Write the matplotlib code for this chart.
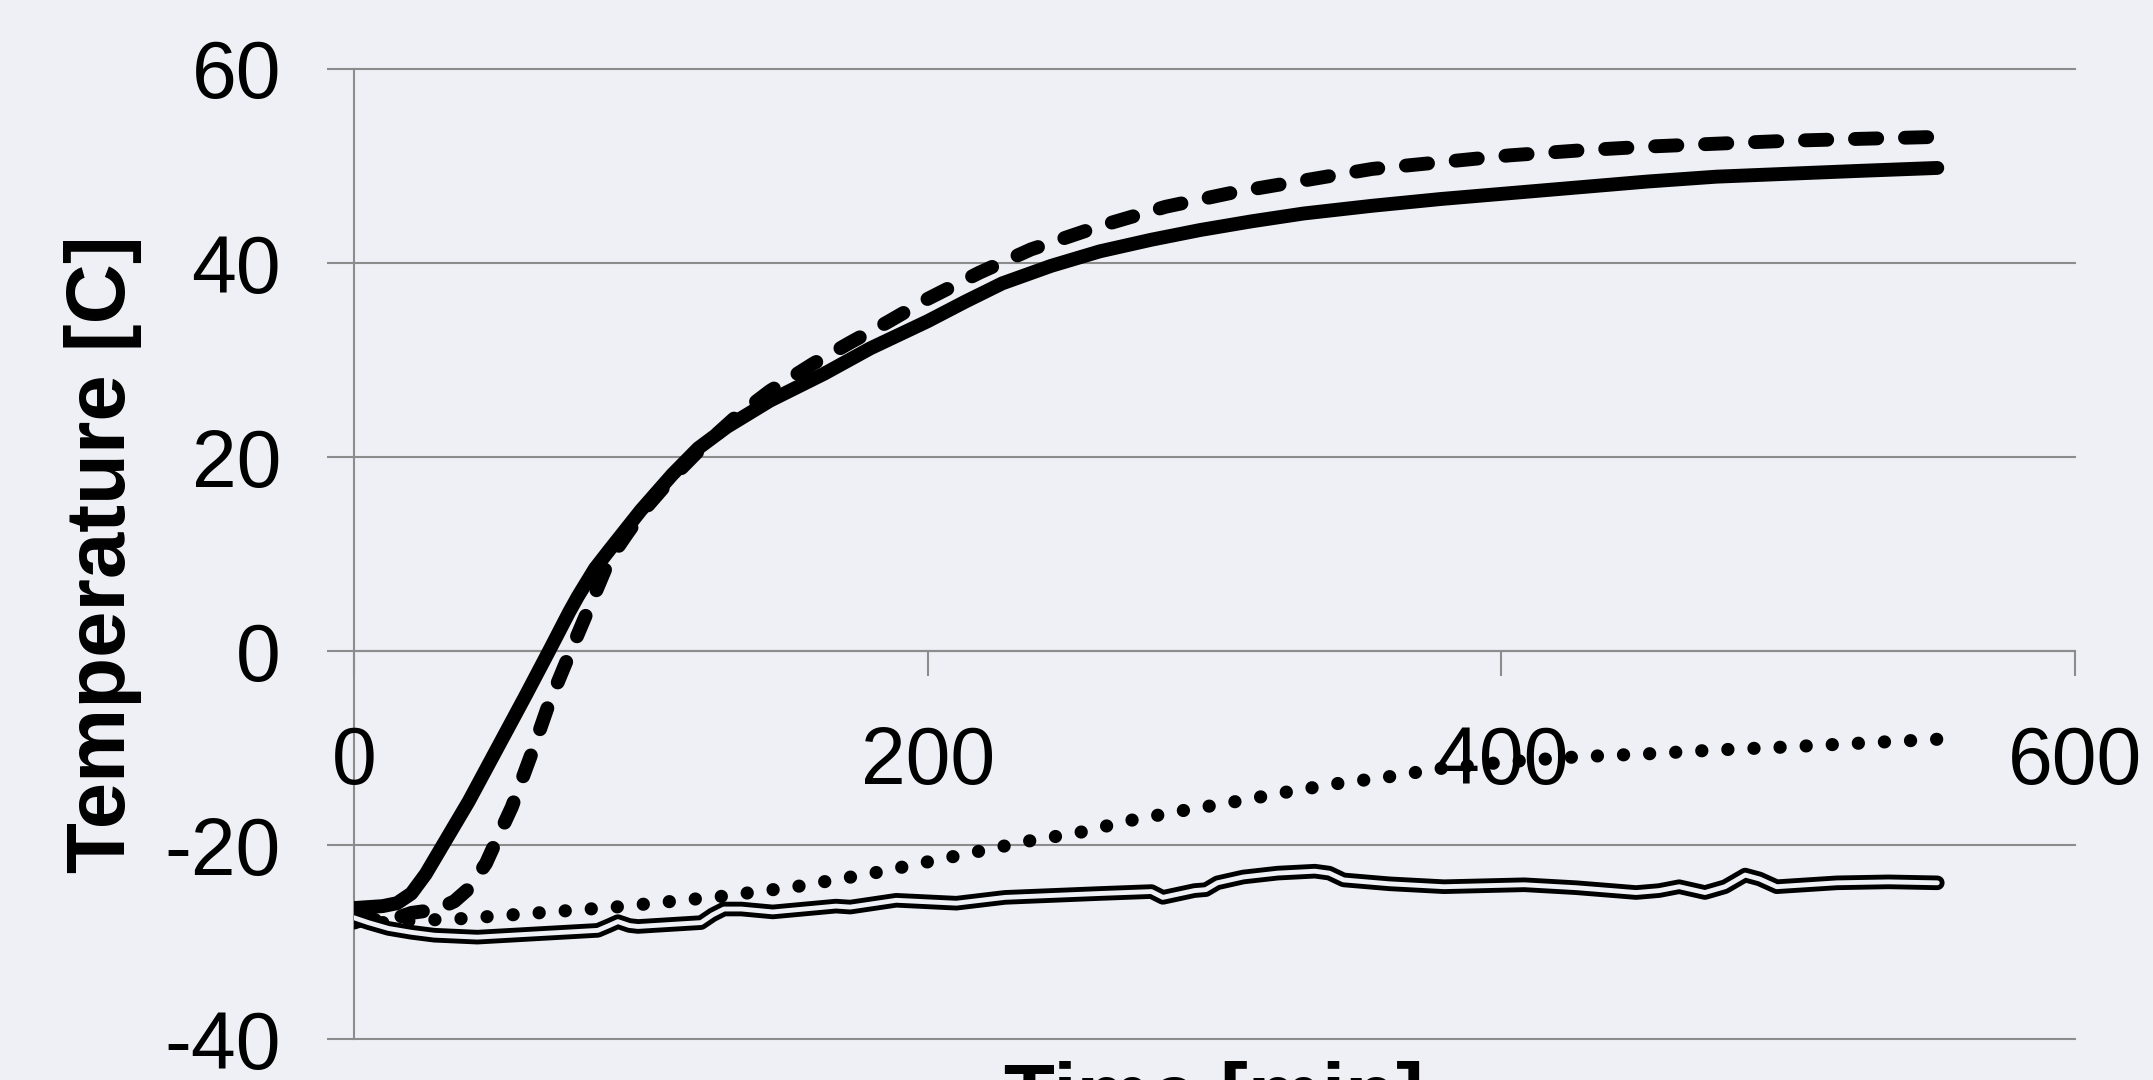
import matplotlib
matplotlib.use("Agg")
import matplotlib.pyplot as plt

# Temperature logs [C] against time [min]
t_solid = [0, 5, 10, 15, 20, 25, 31, 40, 50, 60, 68, 75, 78, 84, 89, 100, 111, 120, 130,
           145, 164, 180, 200, 213, 226, 243, 260, 278, 295, 313, 331, 355, 379, 403, 427,
           451, 475, 500, 525, 552]
T_solid = [-26.5, -26.4, -26.3, -26.0, -25.0, -23.0, -20.0, -15.5, -10.0, -4.5, 0.0, 4.0, 5.6,
           8.5, 10.4, 14.5, 18.2, 20.9, 23.1, 25.8, 28.6, 31.2, 34.0, 36.0, 37.9, 39.7, 41.2,
           42.4, 43.4, 44.3, 45.1, 45.9, 46.6, 47.2, 47.8, 48.4, 48.9, 49.2, 49.5, 49.8]

t_dashed = [0, 5, 10, 15, 20, 25, 30, 35, 40, 46, 50, 55, 62, 68, 75, 82, 89, 95, 101, 111,
            121, 133, 145, 160, 173, 186, 200, 218, 236, 260, 283, 307, 331, 355, 379, 403,
            427, 451, 475, 500, 525, 552]
T_dashed = [-28.0, -27.5, -28.0, -27.5, -27.0, -26.8, -26.5, -25.8, -24.5, -21.9, -19.3, -16.1,
            -10.5, -5.4, -0.4, 4.5, 9.4, 12.0, 14.5, 17.9, 20.9, 24.1, 26.8, 29.6, 31.8, 33.9,
            36.3, 39.0, 41.4, 43.8, 45.8, 47.3, 48.5, 49.7, 50.4, 51.1, 51.6, 52.0, 52.3, 52.6,
            52.8, 53.0]

t_dotted = [10, 20, 37, 64, 91, 128, 154, 181, 199, 217, 235, 253, 270, 288, 306, 324, 342,
            360, 379, 403, 427, 451, 475, 499, 525, 552]
T_dotted = [-28.0, -27.8, -27.6, -27.0, -26.4, -25.3, -24.3, -22.9, -21.8, -20.7, -19.6, -18.7,
            -17.5, -16.5, -15.6, -14.6, -13.7, -13.0, -12.1, -11.4, -10.9, -10.6, -10.2, -9.9,
            -9.5, -9.1]

t_double = [0, 5, 12, 20, 28, 43, 55, 67, 85, 89, 92, 96, 99, 121, 125, 129, 135, 146, 168,
            173, 189, 210, 227, 260, 278, 282, 293, 297, 301, 310, 322, 335, 340, 345, 361, 380,
            408, 426, 447, 455, 462, 471, 478, 485, 490, 496, 517, 535, 552]
T_double = [-27.5, -28.0, -28.6, -29.0, -29.3, -29.5, -29.3, -29.1, -28.8, -28.3, -27.9, -28.3,
            -28.4, -28.0, -27.2, -26.6, -26.6, -26.9, -26.3, -26.4, -25.7, -26.0, -25.4, -25.0,
            -24.8, -25.4, -24.7, -24.6, -23.9, -23.3, -22.9, -22.7, -22.9, -23.6, -24.0, -24.3,
            -24.1, -24.4, -24.9, -24.7, -24.3, -24.9, -24.3, -23.1, -23.5, -24.3, -23.9, -23.8,
            -23.9]

x_ticks = [0, 200, 400, 600]
y_ticks = [-40, -20, 0, 20, 40, 60]

BG = "#eef0f5"
GRID = "#8c8c8c"
FONT = "Liberation Sans"

plt.rcParams["font.family"] = [FONT, "DejaVu Sans"]
plt.rcParams["axes.unicode_minus"] = False

fig = plt.figure(figsize=(21.53, 10.8), dpi=100, facecolor=BG)
ax = fig.add_axes([354 / 2153, 1 - 1039 / 1080, (2075 - 354) / 2153, (1039 - 69) / 1080])
ax.set_facecolor(BG)
ax.set_axisbelow(True)

ax.plot(t_solid, T_solid, color="black", lw=10, solid_capstyle="round",
        solid_joinstyle="round", zorder=3)
ax.plot(t_dashed, T_dashed, color="black", lw=10, linestyle=(0, (1.6, 2.0)),
        dash_capstyle="round", dash_joinstyle="round", zorder=3)
ax.plot(t_dotted, T_dotted, color="black", lw=9.5, linestyle=(0, (0.01, 1.97)),
        dash_capstyle="round", zorder=3)
# double line: black stroke with a background-coloured core
ax.plot(t_double, T_double, color="black", lw=10.5, solid_capstyle="round",
        solid_joinstyle="round", zorder=3)
ax.plot(t_double, T_double, color=BG, lw=3.5, solid_capstyle="round",
        solid_joinstyle="round", zorder=3.1)

ax.set_xlim(0, 600)
ax.set_ylim(-40, 60)
ax.set_xticks(x_ticks)
ax.set_yticks(y_ticks)

for s in ["top", "right"]:
    ax.spines[s].set_visible(False)
ax.spines["bottom"].set_position(("data", 0))
for s in ["left", "bottom"]:
    ax.spines[s].set_color(GRID)
    ax.spines[s].set_linewidth(1.5)
    ax.spines[s].set_zorder(0.5)

ax.yaxis.grid(True, color=GRID, lw=1.5)
for gl in ax.get_ygridlines():
    gl.set_clip_on(False)

ax.tick_params(axis="y", direction="out", length=19.5, width=1.5, color=GRID,
               pad=33, labelsize=58, labelcolor="black")
ax.tick_params(axis="x", direction="out", length=18, width=1.5, color=GRID,
               pad=35, labelsize=58, labelcolor="black")

fig.text(103 / 2153, 1 - 554 / 1080, "Temperature [C]", rotation=90, ha="center",
         va="center", fontsize=60, fontweight="bold")
fig.text(1214 / 2153, 1 - 1061 / 1080, "Time [min]", ha="center", va="top",
         fontsize=60, fontweight="bold")

fig.savefig("out.png", dpi=100, facecolor=BG)
